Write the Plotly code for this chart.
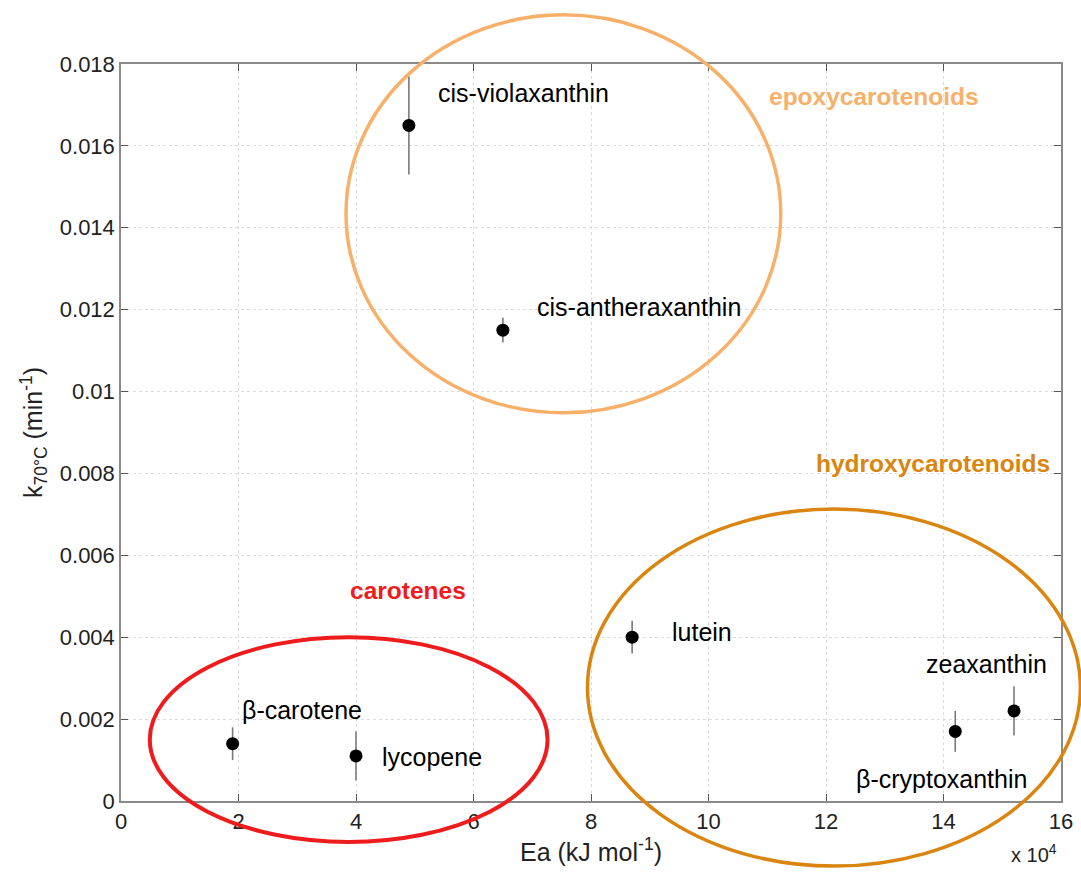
import plotly.graph_objects as go

# Data (Ea in units of 1e4 kJ/mol, k in 1/min)
names = ["β-carotene", "lycopene", "cis-violaxanthin", "cis-antheraxanthin",
         "lutein", "β-cryptoxanthin", "zeaxanthin"]
ea = [1.9, 4.0, 4.9, 6.5, 8.7, 14.2, 15.2]
k70 = [0.0014, 0.0011, 0.0165, 0.0115, 0.0040, 0.0017, 0.0022]
k_err = [0.0004, 0.0006, 0.0012, 0.0003, 0.0004, 0.0005, 0.0006]

# label anchor positions (data coords)
lab_x = [2.02, 4.40, 5.37, 7.04, 9.34, 12.48, 13.67]
lab_y = [0.00222, 0.00107, 0.01729, 0.01206, 0.00413, 0.00054, 0.00335]

groups = ["epoxycarotenoids", "hydroxycarotenoids", "carotenes"]
group_colors = ["#F7B06A", "#D9850F", "#EE1C1C"]
group_x = [10.99, 11.80, 3.86]
group_y = [0.01720, 0.00825, 0.00513]
# ellipse extents (data coords): x0, x1, y0, y1
ell_x0 = [3.83, 7.94, 0.49]
ell_x1 = [11.23, 16.33, 7.26]
ell_y0 = [0.00948, -0.00159, -0.00100]
ell_y1 = [0.01920, 0.00713, 0.00400]
ell_w = [3.5, 3.5, 4]

xticks = [0, 2, 4, 6, 8, 10, 12, 14, 16]
yticks = [0, 0.002, 0.004, 0.006, 0.008, 0.01, 0.012, 0.014, 0.016, 0.018]
ytick_text = ["0", "0.002", "0.004", "0.006", "0.008", "0.01", "0.012", "0.014", "0.016", "0.018"]

xr = [0, 16]
yr = [0, 0.018]

FONT = "Liberation Sans, Arial, sans-serif"

fig = go.Figure()
fig.add_trace(go.Scatter(
    x=ea, y=k70, mode="markers",
    marker=dict(color="black", size=13),
    error_y=dict(type="data", array=k_err, color="#7a7a7a", thickness=1.6, width=0),
    showlegend=False, cliponaxis=False,
))

def px(v):
    return (v - xr[0]) / (xr[1] - xr[0])

def py(v):
    return (v - yr[0]) / (yr[1] - yr[0])

shapes = []
for i in range(3):
    shapes.append(dict(type="circle", xref="paper", yref="paper",
                       x0=px(ell_x0[i]), x1=px(ell_x1[i]),
                       y0=py(ell_y0[i]), y1=py(ell_y1[i]),
                       line=dict(color=group_colors[i], width=ell_w[i]),
                       layer="above"))

annotations = []
for n, x, y in zip(names, lab_x, lab_y):
    annotations.append(dict(x=x, y=y, xref="x", yref="y", text=n, showarrow=False,
                            xanchor="left", yanchor="middle",
                            font=dict(family=FONT, size=25, color="black")))
for g, c, x, y in zip(groups, group_colors, group_x, group_y):
    annotations.append(dict(x=x, y=y, xref="x", yref="y", text="<b>" + g + "</b>",
                            showarrow=False, xanchor="left", yanchor="middle",
                            font=dict(family=FONT, size=24.5, color=c)))
annotations.append(dict(x=0.998, y=-0.071, xref="paper", yref="paper",
                        text="x 10<sup>4</sup>", showarrow=False,
                        xanchor="right", yanchor="middle",
                        font=dict(family=FONT, size=20, color="#222")))

axis_common = dict(showline=True, linecolor="#8a8a8a", linewidth=1.5, mirror="ticks",
                   ticks="inside", ticklen=7, tickcolor="#555", tickwidth=1,
                   showgrid=True, gridcolor="#dcdcdc", griddash="dot", gridwidth=1,
                   zeroline=False, automargin=False, ticklabeloverflow="allow",
                   tickfont=dict(family=FONT, size=22, color="#222"))

fig.update_layout(
    width=1081, height=875,
    margin=dict(l=121, r=20, t=64, b=74),
    paper_bgcolor="white", plot_bgcolor="white",
    shapes=shapes, annotations=annotations,
    xaxis=dict(range=xr, tickvals=xticks, ticktext=[str(t) for t in xticks],
               title=dict(text="Ea (kJ mol<sup>-1</sup>)", standoff=8,
                          font=dict(family=FONT, size=25, color="#222")),
               **axis_common),
    yaxis=dict(range=yr, tickvals=yticks, ticktext=ytick_text,
               title=dict(text="k<sub>70°C</sub> (min<sup>-1</sup>)", standoff=10,
                          font=dict(family=FONT, size=25, color="#222")),
               **axis_common),
)

fig.write_html("out.html", config={"displayModeBar": False},
               post_script="document.body.style.margin='0px';document.body.style.overflow='hidden';")
